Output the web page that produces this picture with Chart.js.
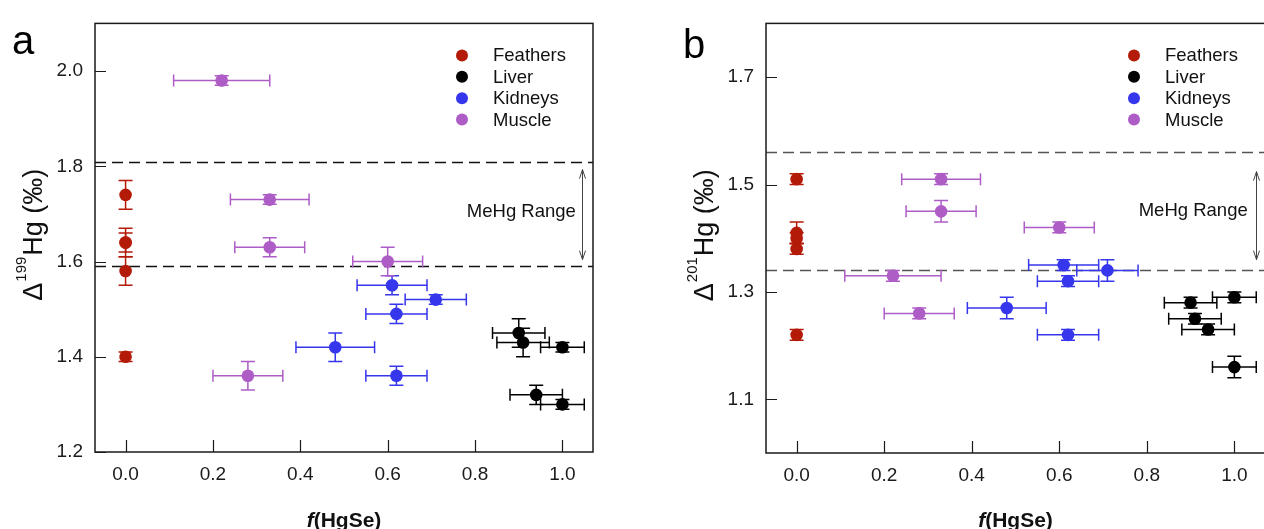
<!DOCTYPE html>
<html>
<head>
<meta charset="utf-8">
<script src="https://cdn.jsdelivr.net/npm/chart.js@4.4.1/dist/chart.umd.min.js"></script>
<style>
  body { margin: 0; background: #fff; overflow: hidden; width: 1264px; height: 529px; position: relative; }
  .panel { position: absolute; top: 0; height: 529px; }
  #wrapA { left: 0; width: 620px; }
  #wrapB { left: 640px; width: 640px; }
</style>
</head>
<body>
<div class="panel" id="wrapA"><canvas id="chartA"></canvas></div>
<div class="panel" id="wrapB"><canvas id="chartB"></canvas></div>
<script>
var tissueNames = ['Feathers', 'Liver', 'Kidneys', 'Muscle'];
var tissueColors = ['#b41a08', '#000000', '#3636ec', '#ae5cc6'];

// f(HgSe) of every sample, with its uncertainty (same samples in both panels)
var feathersX = [0, 0, 0, 0, 0];
var feathersXErr = [0, 0, 0, 0, 0];
var liverX = [0.90, 0.91, 1.00, 0.94, 1.00];
var liverXErr = [0.06, 0.06, 0.05, 0.06, 0.05];
var kidneysX = [0.61, 0.71, 0.62, 0.48, 0.62];
var kidneysXErr = [0.08, 0.07, 0.07, 0.09, 0.07];
var muscleX = [0.22, 0.33, 0.33, 0.60, 0.28];
var muscleXErr = [0.11, 0.09, 0.08, 0.08, 0.08];

// panel a: D199Hg (permil)
var feathersD199 = [1.74, 1.64, 1.64, 1.58, 1.40];
var feathersD199Err = [0.03, 0.03, 0.02, 0.03, 0.01];
var liverD199 = [1.45, 1.43, 1.42, 1.32, 1.30];
var liverD199Err = [0.03, 0.03, 0.01, 0.02, 0.01];
var kidneysD199 = [1.55, 1.52, 1.49, 1.42, 1.36];
var kidneysD199Err = [0.02, 0.01, 0.02, 0.03, 0.02];
var muscleD199 = [1.98, 1.73, 1.63, 1.60, 1.36];
var muscleD199Err = [0.01, 0.01, 0.02, 0.03, 0.03];

// panel b: D201Hg (permil)
var feathersD201 = [1.51, 1.41, 1.40, 1.38, 1.22];
var feathersD201Err = [0.01, 0.02, 0.01, 0.01, 0.01];
var liverD201 = [1.28, 1.25, 1.29, 1.23, 1.16];
var liverD201Err = [0.01, 0.01, 0.01, 0.01, 0.02];
var kidneysD201 = [1.35, 1.34, 1.32, 1.27, 1.22];
var kidneysD201Err = [0.01, 0.02, 0.01, 0.02, 0.01];
var muscleD201 = [1.33, 1.51, 1.45, 1.42, 1.26];
var muscleD201Err = [0.01, 0.01, 0.02, 0.01, 0.01];

// MeHg range limits
var mehgRange199 = [1.59, 1.81];
var mehgRange201 = [1.34, 1.56];

// axis ticks
var xTicks = [0, 0.2, 0.4, 0.6, 0.8, 1.0];
var yTicks199 = [1.2, 1.4, 1.6, 1.8, 2.0];
var yTicks201 = [1.1, 1.3, 1.5, 1.7];

var FONT = "'Liberation Sans', Arial, sans-serif";

function points(xs, xe, ys, ye) {
  return xs.map(function (x, i) {
    return { x: x, y: ys[i], xErr: xe[i], yErr: ye[i] };
  });
}

function buildDatasets(series) {
  return series.map(function (s, i) {
    return {
      label: tissueNames[i],
      data: s,
      backgroundColor: tissueColors[i],
      borderColor: tissueColors[i],
      borderWidth: 0,
      pointRadius: 6.3,
      pointHoverRadius: 6.3
    };
  });
}

var decor = {
  id: 'decor',
  beforeDatasetsDraw: function (chart, args, opts) {
    var ctx = chart.ctx, a = chart.chartArea;
    var xs = chart.scales.x, ys = chart.scales.y;
    ctx.save();
    // MeHg range dashed lines
    ctx.strokeStyle = opts.dashColor;
    ctx.lineWidth = 1.6;
    ctx.setLineDash([11, 6]);
    opts.range.forEach(function (v) {
      var py = Math.round(ys.getPixelForValue(v)) + 0.5;
      ctx.beginPath();
      ctx.moveTo(a.left, py);
      ctx.lineTo(a.right, py);
      ctx.stroke();
    });
    ctx.setLineDash([]);
    // error bars
    ctx.lineWidth = 1.5;
    chart.data.datasets.forEach(function (ds) {
      ctx.strokeStyle = ds.borderColor;
      ds.data.forEach(function (p) {
        var px = xs.getPixelForValue(p.x), py = ys.getPixelForValue(p.y);
        ctx.beginPath();
        if (p.yErr > 0) {
          var y1 = ys.getPixelForValue(p.y - p.yErr), y2 = ys.getPixelForValue(p.y + p.yErr);
          ctx.moveTo(px, y1); ctx.lineTo(px, y2);
          ctx.moveTo(px - 7, y1); ctx.lineTo(px + 7, y1);
          ctx.moveTo(px - 7, y2); ctx.lineTo(px + 7, y2);
        }
        if (p.xErr > 0) {
          var x1 = xs.getPixelForValue(p.x - p.xErr), x2 = xs.getPixelForValue(p.x + p.xErr);
          ctx.moveTo(x1, py); ctx.lineTo(x2, py);
          ctx.moveTo(x1, py - 6); ctx.lineTo(x1, py + 6);
          ctx.moveTo(x2, py - 6); ctx.lineTo(x2, py + 6);
        }
        ctx.stroke();
      });
    });
    ctx.restore();
  },
  afterDraw: function (chart, args, opts) {
    var ctx = chart.ctx, a = chart.chartArea;
    var xs = chart.scales.x, ys = chart.scales.y;
    ctx.save();
    // frame
    ctx.strokeStyle = '#1a1a1a';
    ctx.lineWidth = 1.5;
    ctx.strokeRect(a.left, a.top, a.right - a.left, a.bottom - a.top);
    // inward tick marks
    ctx.lineWidth = 1.2;
    ctx.beginPath();
    xs.ticks.forEach(function (t) {
      var px = Math.round(xs.getPixelForValue(t.value)) + 0.5;
      ctx.moveTo(px, a.bottom); ctx.lineTo(px, a.bottom - 12);
    });
    ys.ticks.forEach(function (t) {
      var py = Math.round(ys.getPixelForValue(t.value)) + 0.5;
      ctx.moveTo(a.left, py); ctx.lineTo(a.left + 11, py);
    });
    ctx.stroke();

    // legend
    ctx.font = '18.5px ' + FONT;
    ctx.textBaseline = 'middle';
    ctx.textAlign = 'left';
    var lx = a.right - 131, ly = a.top + 32;
    chart.data.datasets.forEach(function (ds, i) {
      ctx.fillStyle = ds.backgroundColor;
      ctx.beginPath();
      ctx.arc(lx, ly + i * 21.4, 6, 0, Math.PI * 2);
      ctx.fill();
      ctx.fillStyle = '#111';
      ctx.fillText(ds.label, lx + 31, ly + i * 21.4 + 1);
    });

    // MeHg Range label and arrow
    ctx.fillStyle = '#111';
    ctx.textAlign = 'center';
    ctx.fillText('MeHg Range', xs.getPixelForValue(opts.textAt[0]), ys.getPixelForValue(opts.textAt[1]));
    var ax = Math.round(xs.getPixelForValue(opts.arrow[0])) + 0.5;
    var ay1 = ys.getPixelForValue(opts.arrow[1]), ay2 = ys.getPixelForValue(opts.arrow[2]);
    ctx.strokeStyle = '#444';
    ctx.lineWidth = 1;
    ctx.beginPath();
    ctx.moveTo(ax, ay1); ctx.lineTo(ax, ay2);
    ctx.moveTo(ax - 3, ay1 + 9); ctx.lineTo(ax, ay1); ctx.lineTo(ax + 3, ay1 + 9);
    ctx.moveTo(ax - 3, ay2 - 9); ctx.lineTo(ax, ay2); ctx.lineTo(ax + 3, ay2 - 9);
    ctx.stroke();

    // x axis title: f(HgSe)
    ctx.fillStyle = '#111';
    ctx.textBaseline = 'alphabetic';
    ctx.textAlign = 'left';
    var cx = (a.left + a.right) / 2 + opts.titleShift;
    ctx.font = 'italic bold 21px ' + FONT;
    var wf = ctx.measureText('f').width;
    ctx.font = 'bold 21px ' + FONT;
    var wr = ctx.measureText('(HgSe)').width;
    var sx = cx - (wf + wr) / 2;
    ctx.font = 'italic bold 21px ' + FONT;
    ctx.fillText('f', sx, 527);
    ctx.font = 'bold 21px ' + FONT;
    ctx.fillText('(HgSe)', sx + wf, 527);

    // y axis title: Delta with superscript mass number
    ctx.save();
    ctx.translate(a.left - 53, (a.top + a.bottom) / 2 - 2);
    ctx.rotate(-Math.PI / 2);
    ctx.font = '27px ' + FONT;
    var w1 = ctx.measureText('\u0394').width;
    var w3 = ctx.measureText('Hg (\u2030)').width;
    ctx.font = '15px ' + FONT;
    var w2 = ctx.measureText(opts.mass).width;
    var tx = -(w1 + w2 + w3) / 2;
    ctx.font = '27px ' + FONT;
    ctx.fillText('\u0394', tx, 0);
    ctx.font = '15px ' + FONT;
    ctx.fillText(opts.mass, tx + w1 + 1, -16);
    ctx.font = '27px ' + FONT;
    ctx.fillText('Hg (\u2030)', tx + w1 + w2 + 2, 0);
    ctx.restore();

    // panel letter
    ctx.font = '40px ' + FONT;
    ctx.fillStyle = '#000';
    ctx.fillText(opts.letter, opts.letterAt[0], opts.letterAt[1]);
    ctx.restore();
  }
};

function makePanel(id, series, yMin, yMax, yTicks, pad, yWidth, xHeight, decorOpts) {
  return new Chart(document.getElementById(id), {
    type: 'scatter',
    data: { datasets: buildDatasets(series) },
    options: {
      responsive: true,
      maintainAspectRatio: false,
      animation: false,
      events: [],
      layout: { padding: pad },
      plugins: {
        legend: { display: false },
        tooltip: { enabled: false },
        decor: decorOpts
      },
      scales: {
        x: {
          type: 'linear',
          min: -0.07,
          max: 1.07,
          grid: { display: false, drawTicks: false },
          border: { display: false },
          afterBuildTicks: function (s) { s.ticks = xTicks.map(function (v) { return { value: v }; }); },
          afterFit: function (s) { s.height = xHeight; },
          ticks: {
            color: '#1a1a1a',
            padding: 11,
            maxRotation: 0,
            font: { family: FONT, size: 19 },
            callback: function (v) { return v.toFixed(1); }
          }
        },
        y: {
          type: 'linear',
          min: yMin,
          max: yMax,
          grid: { display: false, drawTicks: false },
          border: { display: false },
          afterBuildTicks: function (s) { s.ticks = yTicks.map(function (v) { return { value: v }; }); },
          afterFit: function (s) { s.width = yWidth; },
          ticks: {
            color: '#1a1a1a',
            padding: 12,
            font: { family: FONT, size: 19 },
            callback: function (v) { return v.toFixed(1); }
          }
        }
      }
    },
    plugins: [decor]
  });
}

makePanel('chartA', [
  points(feathersX, feathersXErr, feathersD199, feathersD199Err),
  points(liverX, liverXErr, liverD199, liverD199Err),
  points(kidneysX, kidneysXErr, kidneysD199, kidneysD199Err),
  points(muscleX, muscleXErr, muscleD199, muscleD199Err)
], 1.2, 2.1, yTicks199, { top: 14, right: 27, left: 0, bottom: 0 }, 95, 77, {
  range: mehgRange199, dashColor: '#111', mass: '199',
  textAt: [0.906, 1.705], arrow: [1.045, 1.793, 1.604],
  letter: 'a', letterAt: [12, 54], titleShift: 0
});

makePanel('chartB', [
  points(feathersX, feathersXErr, feathersD201, feathersD201Err),
  points(liverX, liverXErr, liverD201, liverD201Err),
  points(kidneysX, kidneysXErr, kidneysD201, kidneysD201Err),
  points(muscleX, muscleXErr, muscleD201, muscleD201Err)
], 1.0, 1.8, yTicks201, { top: 15, right: 15, left: 0, bottom: 0 }, 126, 76, {
  range: mehgRange201, dashColor: '#555', mass: '201',
  textAt: [0.906, 1.45], arrow: [1.05, 1.524, 1.36],
  letter: 'b', letterAt: [43, 58], titleShift: 0
});
</script>
</body>
</html>
